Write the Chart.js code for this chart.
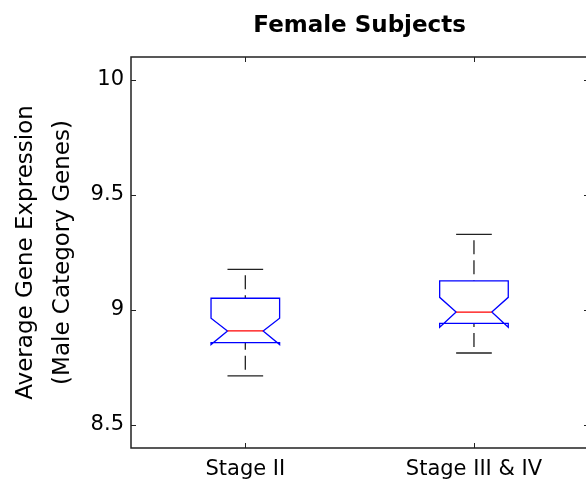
<!DOCTYPE html>
<html>
<head>
<meta charset="utf-8">
<script src="https://cdn.jsdelivr.net/npm/chart.js@4"></script>
<style>
html, body { margin: 0; padding: 0; background: #fff; }
</style>
</head>
<body>
<canvas id="boxChart" width="586" height="494"></canvas>
<script>
// groups on the x axis
const categories = ['Stage II', 'Stage III & IV'];

// box plot statistics
const lowerWhisker = [8.714, 8.813];
const q1 = [8.858, 8.942];
const medians = [8.909, 8.991];
const q3 = [9.051, 9.127];
const upperWhisker = [9.177, 9.329];
const notchLow = [8.850, 8.925];
const notchHigh = [8.964, 9.055];

const yTicks = [8.5, 9, 9.5, 10];

// half widths in x units
const boxHalf = 0.15;
const notchHalf = 0.078;

const fontFamily = '"DejaVu Sans", sans-serif';

// MATLAB style box around the axes, ticks pointing inward
// (the right hand side of the box falls just outside the picture)
const framePlugin = {
  id: 'frame',
  afterDatasetsDraw(chart) {
    const { ctx, chartArea: a, scales: { x, y } } = chart;
    ctx.save();
    ctx.strokeStyle = '#222';
    ctx.lineWidth = 1.5;
    ctx.beginPath();
    ctx.moveTo(a.right + 5, a.top);
    ctx.lineTo(a.left, a.top);
    ctx.lineTo(a.left, a.bottom);
    ctx.lineTo(a.right + 5, a.bottom);
    ctx.stroke();

    ctx.lineWidth = 1;
    ctx.beginPath();
    yTicks.forEach(v => {
      const py = Math.round(y.getPixelForValue(v)) + 0.5;
      ctx.moveTo(a.left, py); ctx.lineTo(a.left + 5, py);
      ctx.moveTo(a.right + 2, py); ctx.lineTo(a.right - 2, py);
    });
    categories.forEach((c, i) => {
      const px = Math.round(x.getPixelForValue(i + 1)) + 0.5;
      ctx.moveTo(px, a.top); ctx.lineTo(px, a.top + 5);
      ctx.moveTo(px, a.bottom); ctx.lineTo(px, a.bottom - 5);
    });
    ctx.stroke();

    // title centred over the (full) plot box
    ctx.fillStyle = '#000';
    ctx.font = 'bold 23px ' + fontFamily;
    ctx.textAlign = 'center';
    ctx.textBaseline = 'alphabetic';
    ctx.fillText('Female Subjects', x.getPixelForValue(1.5), 32);
    ctx.restore();
  }
};

// notched boxes, medians and dashed whiskers
const boxPlugin = {
  id: 'notchedBoxes',
  afterDatasetsDraw(chart) {
    const { ctx, scales: { x, y } } = chart;
    ctx.save();
    categories.forEach((c, i) => {
      const cx = x.getPixelForValue(i + 1);
      const L = x.getPixelForValue(i + 1 - boxHalf);
      const R = x.getPixelForValue(i + 1 + boxHalf);
      const nL = x.getPixelForValue(i + 1 - notchHalf);
      const nR = x.getPixelForValue(i + 1 + notchHalf);
      const yq1 = y.getPixelForValue(q1[i]);
      const yq3 = y.getPixelForValue(q3[i]);
      const ymed = y.getPixelForValue(medians[i]);
      const ynl = y.getPixelForValue(notchLow[i]);
      const ynh = y.getPixelForValue(notchHigh[i]);
      const ylw = y.getPixelForValue(lowerWhisker[i]);
      const yuw = y.getPixelForValue(upperWhisker[i]);

      // whiskers
      ctx.strokeStyle = '#222';
      ctx.lineWidth = 1.3;
      ctx.setLineDash([14, 6]);
      ctx.lineDashOffset = 14;
      ctx.beginPath();
      ctx.moveTo(cx, yuw); ctx.lineTo(cx, yq3);
      ctx.stroke();
      ctx.beginPath();
      ctx.moveTo(cx, ylw); ctx.lineTo(cx, yq1);
      ctx.stroke();
      ctx.setLineDash([]);
      ctx.beginPath();
      ctx.moveTo(nL, yuw); ctx.lineTo(nR, yuw);
      ctx.moveTo(nL, ylw); ctx.lineTo(nR, ylw);
      ctx.stroke();

      // box outline
      ctx.strokeStyle = '#0000ff';
      ctx.lineWidth = 1.3;
      ctx.beginPath();
      ctx.moveTo(L, yq3);
      ctx.lineTo(L, ynh);
      ctx.lineTo(nL, ymed);
      ctx.lineTo(L, ynl);
      ctx.lineTo(L, yq1);
      ctx.lineTo(R, yq1);
      ctx.lineTo(R, ynl);
      ctx.lineTo(nR, ymed);
      ctx.lineTo(R, ynh);
      ctx.lineTo(R, yq3);
      ctx.closePath();
      ctx.stroke();

      // median
      ctx.strokeStyle = '#ff0000';
      ctx.beginPath();
      ctx.moveTo(nL, ymed); ctx.lineTo(nR, ymed);
      ctx.stroke();
    });
    ctx.restore();
  }
};

new Chart(document.getElementById('boxChart').getContext('2d'), {
  type: 'scatter',
  data: {
    datasets: [{
      label: 'median',
      data: medians.map((m, i) => ({ x: i + 1, y: m })),
      pointRadius: 0,
      showLine: false
    }]
  },
  options: {
    responsive: false,
    devicePixelRatio: 1,
    animation: false,
    layout: { padding: { top: 57, right: 0, bottom: 0, left: 0 } },
    plugins: {
      legend: { display: false },
      tooltip: { enabled: false }
    },
    scales: {
      x: {
        type: 'linear',
        min: 0.5,
        max: 2.49,
        afterBuildTicks: s => { s.ticks = categories.map((c, i) => ({ value: i + 1 })); },
        afterFit: s => { s.height = 46; },
        grid: { display: false, drawTicks: false },
        border: { display: false },
        ticks: {
          callback: v => categories[v - 1],
          color: '#000',
          font: { family: fontFamily, size: 21 },
          padding: 9,
          maxRotation: 0,
          autoSkip: false
        }
      },
      y: {
        min: 8.4,
        max: 10.1,
        afterBuildTicks: s => { s.ticks = yTicks.map(v => ({ value: v })); },
        afterFit: s => { s.width = 131; },
        grid: { display: false, drawTicks: false },
        border: { display: false },
        ticks: {
          callback: v => String(v),
          color: '#000',
          font: { family: fontFamily, size: 21 },
          padding: 7
        },
        title: {
          display: true,
          text: ['Average Gene Expression', '(Male Category Genes)'],
          color: '#000',
          font: { family: fontFamily, size: 23, lineHeight: 1.6 },
          padding: { top: 8, bottom: 0 }
        }
      }
    }
  },
  plugins: [boxPlugin, framePlugin]
});
</script>
</body>
</html>
